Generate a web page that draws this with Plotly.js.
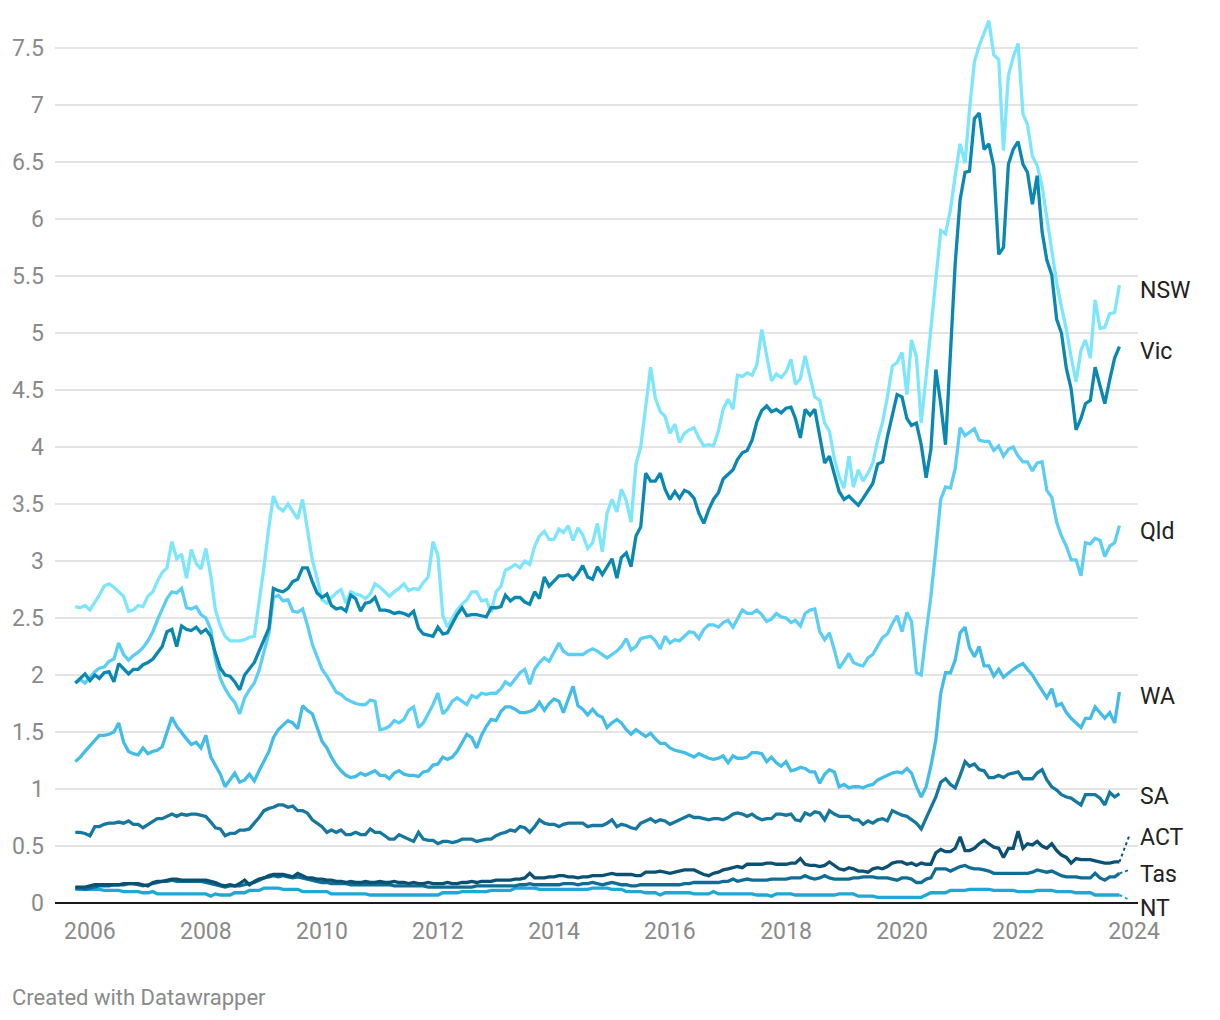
<!DOCTYPE html>
<html>
<head>
<meta charset="utf-8">
<script src="https://cdn.plot.ly/plotly-3.0.1.min.js"></script>
<style>
  html, body { margin: 0; padding: 0; background: #ffffff; }
  #chart { width: 1220px; height: 1020px; }
</style>
</head>
<body>
<div id="chart"></div>
<script>
// Monthly series, October 2005 to October 2023 (217 months)
const startYear = 2005, startMonth = 10, monthCount = 217;

const seriesNames = ['NSW', 'Vic', 'Qld', 'WA', 'SA', 'ACT', 'Tas', 'NT'];

const nsw = [
2.60,2.59,2.61,2.57,2.64,2.70,2.78,2.80,2.77,2.73,
2.69,2.56,2.57,2.61,2.60,2.69,2.73,2.82,2.90,2.94,
3.17,3.02,3.06,2.85,3.10,2.98,2.93,3.11,2.87,2.57,
2.43,2.34,2.30,2.30,2.30,2.31,2.33,2.34,2.62,2.95,
3.30,3.57,3.47,3.44,3.50,3.44,3.37,3.54,3.27,3.01,
2.85,2.66,2.63,2.68,2.72,2.75,2.63,2.73,2.71,2.70,
2.67,2.71,2.80,2.77,2.73,2.69,2.73,2.76,2.80,2.74,
2.76,2.75,2.81,2.86,3.17,3.05,2.52,2.42,2.50,2.57,
2.62,2.66,2.73,2.73,2.65,2.66,2.55,2.73,2.78,2.92,
2.94,2.97,2.94,3.00,2.97,3.13,3.22,3.26,3.19,3.19,
3.28,3.25,3.31,3.18,3.29,3.23,3.11,3.16,3.33,3.08,
3.42,3.54,3.43,3.63,3.53,3.34,3.85,4.00,4.35,4.70,
4.43,4.31,4.27,4.12,4.20,4.04,4.12,4.15,4.17,4.08,
4.01,4.02,4.01,4.14,4.33,4.42,4.33,4.63,4.62,4.65,
4.63,4.72,5.03,4.78,4.58,4.64,4.61,4.66,4.77,4.55,
4.60,4.80,4.62,4.44,4.41,4.21,4.14,3.90,3.74,3.64,
3.92,3.65,3.80,3.70,3.77,3.86,4.06,4.22,4.44,4.71,
4.74,4.83,4.46,4.94,4.79,4.21,4.62,5.03,5.41,5.90,
5.87,6.08,6.38,6.66,6.49,6.96,7.38,7.52,7.63,7.74,
7.44,7.40,6.60,7.26,7.42,7.54,6.92,6.83,6.55,6.47,
6.29,6.02,5.73,5.44,5.23,5.03,4.79,4.57,4.85,4.94,
4.78,5.29,5.04,5.05,5.17,5.18,5.42];

const vic = [
1.93,1.97,2.01,1.95,2.00,1.97,2.02,2.03,1.94,2.10,
2.05,2.01,2.05,2.05,2.09,2.11,2.14,2.19,2.25,2.38,
2.40,2.25,2.43,2.40,2.39,2.42,2.37,2.40,2.34,2.19,
2.06,2.00,1.99,1.94,1.87,2.00,2.05,2.11,2.21,2.31,
2.41,2.76,2.74,2.73,2.76,2.82,2.84,2.94,2.94,2.82,
2.72,2.68,2.71,2.61,2.58,2.59,2.56,2.70,2.67,2.56,
2.63,2.64,2.68,2.57,2.57,2.56,2.54,2.55,2.54,2.52,
2.56,2.41,2.36,2.35,2.34,2.42,2.36,2.37,2.45,2.53,
2.59,2.52,2.53,2.53,2.52,2.51,2.59,2.59,2.60,2.70,
2.65,2.68,2.68,2.64,2.62,2.73,2.67,2.86,2.78,2.83,
2.87,2.87,2.88,2.84,2.89,2.96,2.86,2.84,2.95,2.88,
2.95,3.02,2.85,3.03,3.07,2.95,3.22,3.30,3.77,3.70,
3.70,3.77,3.63,3.54,3.61,3.55,3.62,3.60,3.55,3.42,
3.33,3.45,3.54,3.60,3.72,3.76,3.80,3.89,3.95,3.97,
4.06,4.22,4.32,4.36,4.31,4.33,4.30,4.34,4.35,4.25,
4.08,4.33,4.28,4.33,4.09,3.86,3.92,3.77,3.61,3.54,
3.57,3.53,3.49,3.55,3.61,3.68,3.85,3.87,4.09,4.27,
4.46,4.44,4.25,4.19,4.21,4.02,3.73,3.98,4.68,4.38,
4.02,4.82,5.61,6.17,6.41,6.42,6.88,6.93,6.61,6.66,
6.46,5.69,5.75,6.48,6.61,6.68,6.48,6.41,6.13,6.38,
5.89,5.64,5.51,5.12,5.00,4.69,4.51,4.15,4.25,4.38,
4.41,4.70,4.54,4.38,4.59,4.78,4.88];

const qld = [
1.93,1.96,1.93,1.98,2.03,2.06,2.07,2.12,2.14,2.28,
2.18,2.13,2.17,2.20,2.24,2.30,2.38,2.48,2.58,2.67,
2.73,2.72,2.76,2.59,2.58,2.60,2.53,2.50,2.40,2.14,
1.97,1.88,1.81,1.76,1.66,1.80,1.87,1.93,2.04,2.21,
2.37,2.68,2.70,2.65,2.66,2.56,2.55,2.58,2.44,2.27,
2.16,2.05,1.99,1.92,1.85,1.83,1.79,1.77,1.75,1.74,
1.74,1.78,1.77,1.52,1.53,1.55,1.60,1.58,1.61,1.69,
1.72,1.54,1.58,1.66,1.74,1.84,1.66,1.70,1.77,1.80,
1.77,1.74,1.82,1.80,1.84,1.83,1.84,1.84,1.88,1.94,
1.91,1.97,2.02,2.05,1.92,2.05,2.11,2.15,2.12,2.20,
2.28,2.21,2.18,2.18,2.18,2.18,2.21,2.23,2.21,2.18,
2.15,2.18,2.21,2.25,2.32,2.22,2.25,2.32,2.33,2.34,
2.30,2.23,2.34,2.28,2.31,2.30,2.34,2.38,2.37,2.32,
2.40,2.44,2.44,2.42,2.46,2.48,2.42,2.49,2.57,2.54,
2.54,2.57,2.53,2.47,2.49,2.54,2.51,2.50,2.46,2.48,
2.43,2.54,2.57,2.58,2.38,2.31,2.37,2.22,2.06,2.12,
2.19,2.11,2.09,2.08,2.15,2.18,2.25,2.33,2.36,2.45,
2.52,2.38,2.55,2.47,2.02,2.00,2.37,2.69,3.10,3.54,
3.65,3.64,3.81,4.17,4.10,4.13,4.16,4.06,4.05,4.05,
3.97,4.01,3.92,3.98,4.00,3.92,3.87,3.87,3.79,3.86,
3.87,3.62,3.56,3.34,3.22,3.13,3.01,3.01,2.87,3.16,
3.15,3.20,3.18,3.04,3.13,3.16,3.31];

const wa = [
1.24,1.28,1.33,1.38,1.42,1.47,1.47,1.48,1.50,1.58,
1.41,1.33,1.31,1.30,1.36,1.31,1.33,1.34,1.37,1.50,
1.63,1.55,1.50,1.44,1.39,1.41,1.36,1.47,1.28,1.20,
1.13,1.02,1.08,1.14,1.06,1.08,1.13,1.07,1.16,1.25,
1.33,1.45,1.52,1.56,1.60,1.58,1.53,1.73,1.69,1.66,
1.54,1.42,1.36,1.28,1.21,1.16,1.12,1.10,1.11,1.14,
1.12,1.14,1.16,1.12,1.12,1.09,1.14,1.16,1.13,1.12,
1.12,1.11,1.15,1.16,1.21,1.22,1.28,1.26,1.28,1.33,
1.41,1.48,1.45,1.36,1.47,1.55,1.61,1.60,1.68,1.72,
1.72,1.70,1.67,1.67,1.68,1.70,1.76,1.69,1.75,1.79,
1.77,1.67,1.79,1.90,1.73,1.70,1.65,1.70,1.65,1.63,
1.54,1.58,1.61,1.58,1.52,1.48,1.52,1.49,1.46,1.49,
1.44,1.40,1.40,1.36,1.34,1.33,1.32,1.30,1.28,1.31,
1.29,1.27,1.26,1.27,1.29,1.23,1.29,1.27,1.27,1.28,
1.32,1.32,1.31,1.24,1.28,1.23,1.20,1.24,1.16,1.17,
1.19,1.18,1.15,1.15,1.05,1.13,1.17,1.15,1.02,1.04,
1.01,1.02,1.02,1.01,1.03,1.04,1.08,1.10,1.12,1.14,
1.15,1.14,1.18,1.14,1.02,0.93,1.02,1.20,1.43,1.84,
2.02,2.02,2.13,2.37,2.42,2.24,2.16,2.25,2.08,2.08,
1.99,2.05,1.98,2.02,2.05,2.08,2.10,2.05,2.00,1.93,
1.86,1.80,1.88,1.73,1.75,1.67,1.62,1.58,1.54,1.62,
1.62,1.72,1.67,1.62,1.67,1.58,1.85];

const sa = [
0.62,0.62,0.61,0.59,0.67,0.67,0.69,0.70,0.70,0.71,
0.70,0.72,0.69,0.69,0.66,0.69,0.72,0.74,0.74,0.76,
0.78,0.76,0.78,0.77,0.78,0.78,0.77,0.76,0.71,0.66,
0.65,0.59,0.61,0.61,0.64,0.64,0.65,0.70,0.75,0.81,
0.83,0.84,0.86,0.86,0.84,0.85,0.81,0.81,0.79,0.73,
0.70,0.67,0.62,0.64,0.62,0.64,0.60,0.60,0.62,0.60,
0.60,0.65,0.62,0.62,0.59,0.56,0.56,0.60,0.58,0.56,
0.54,0.62,0.56,0.55,0.55,0.52,0.54,0.54,0.53,0.54,
0.56,0.56,0.56,0.54,0.55,0.56,0.56,0.59,0.61,0.62,
0.64,0.63,0.67,0.66,0.62,0.67,0.73,0.70,0.69,0.69,
0.67,0.69,0.70,0.70,0.70,0.70,0.67,0.68,0.68,0.68,
0.70,0.73,0.67,0.69,0.68,0.66,0.65,0.70,0.72,0.74,
0.71,0.73,0.72,0.69,0.71,0.73,0.75,0.77,0.75,0.75,
0.74,0.73,0.74,0.74,0.73,0.75,0.78,0.79,0.78,0.76,
0.78,0.75,0.73,0.74,0.74,0.78,0.78,0.77,0.78,0.73,
0.72,0.79,0.77,0.80,0.79,0.73,0.81,0.78,0.76,0.76,
0.76,0.73,0.73,0.69,0.72,0.70,0.73,0.74,0.72,0.81,
0.79,0.77,0.76,0.73,0.70,0.65,0.74,0.84,0.93,1.06,
1.09,1.04,1.01,1.12,1.24,1.20,1.22,1.17,1.16,1.10,
1.10,1.12,1.10,1.13,1.14,1.15,1.09,1.09,1.09,1.14,
1.17,1.08,1.02,0.99,0.95,0.93,0.92,0.89,0.86,0.95,
0.95,0.95,0.92,0.86,0.97,0.93,0.96];

const act = [
0.14,0.14,0.14,0.15,0.16,0.16,0.16,0.16,0.16,0.16,
0.17,0.17,0.17,0.17,0.16,0.15,0.18,0.19,0.19,0.20,
0.21,0.21,0.20,0.20,0.20,0.20,0.20,0.20,0.19,0.18,
0.16,0.15,0.16,0.15,0.17,0.20,0.16,0.19,0.21,0.22,
0.24,0.25,0.25,0.25,0.24,0.23,0.26,0.24,0.22,0.22,
0.21,0.21,0.20,0.20,0.19,0.19,0.18,0.19,0.18,0.18,
0.19,0.18,0.18,0.19,0.18,0.18,0.19,0.18,0.18,0.17,
0.18,0.17,0.17,0.18,0.17,0.17,0.17,0.18,0.17,0.17,
0.18,0.18,0.19,0.18,0.19,0.19,0.19,0.20,0.20,0.20,
0.20,0.21,0.21,0.22,0.26,0.22,0.22,0.22,0.23,0.23,
0.24,0.24,0.23,0.23,0.22,0.23,0.23,0.24,0.24,0.24,
0.25,0.26,0.25,0.25,0.25,0.25,0.24,0.24,0.27,0.27,
0.27,0.28,0.27,0.26,0.27,0.28,0.29,0.29,0.29,0.27,
0.25,0.24,0.26,0.27,0.29,0.30,0.31,0.32,0.31,0.34,
0.34,0.34,0.34,0.35,0.35,0.34,0.34,0.34,0.35,0.35,
0.39,0.34,0.33,0.33,0.32,0.33,0.36,0.33,0.30,0.29,
0.31,0.30,0.28,0.28,0.27,0.30,0.31,0.30,0.32,0.35,
0.36,0.36,0.34,0.35,0.33,0.35,0.34,0.34,0.44,0.47,
0.45,0.45,0.48,0.58,0.46,0.46,0.48,0.52,0.55,0.52,
0.49,0.48,0.40,0.48,0.48,0.63,0.48,0.52,0.51,0.54,
0.50,0.48,0.52,0.46,0.42,0.40,0.35,0.39,0.38,0.38,
0.38,0.37,0.36,0.35,0.35,0.36,0.36];

const tas = [
0.13,0.13,0.12,0.13,0.14,0.15,0.15,0.15,0.16,0.16,
0.16,0.17,0.17,0.16,0.15,0.16,0.17,0.18,0.19,0.19,
0.20,0.19,0.19,0.19,0.19,0.19,0.19,0.18,0.17,0.16,
0.15,0.14,0.15,0.15,0.15,0.16,0.17,0.18,0.20,0.22,
0.23,0.24,0.23,0.24,0.23,0.22,0.23,0.22,0.21,0.20,
0.19,0.18,0.18,0.17,0.17,0.17,0.17,0.16,0.16,0.16,
0.16,0.16,0.16,0.16,0.16,0.16,0.15,0.15,0.15,0.15,
0.15,0.15,0.15,0.14,0.14,0.14,0.14,0.14,0.14,0.14,
0.14,0.14,0.14,0.15,0.15,0.15,0.15,0.15,0.15,0.15,
0.15,0.15,0.16,0.16,0.17,0.16,0.16,0.16,0.16,0.16,
0.16,0.17,0.17,0.17,0.16,0.17,0.17,0.18,0.17,0.16,
0.17,0.18,0.17,0.16,0.16,0.15,0.15,0.16,0.16,0.16,
0.16,0.16,0.16,0.16,0.16,0.16,0.17,0.17,0.18,0.18,
0.18,0.18,0.18,0.18,0.19,0.19,0.21,0.19,0.20,0.21,
0.20,0.20,0.20,0.20,0.21,0.21,0.21,0.21,0.22,0.22,
0.22,0.24,0.22,0.21,0.22,0.24,0.22,0.21,0.21,0.21,
0.21,0.22,0.22,0.23,0.23,0.23,0.22,0.22,0.22,0.21,
0.20,0.22,0.22,0.21,0.18,0.18,0.21,0.22,0.30,0.30,
0.30,0.28,0.30,0.32,0.33,0.31,0.30,0.30,0.29,0.28,
0.26,0.26,0.26,0.26,0.26,0.26,0.26,0.26,0.27,0.29,
0.28,0.27,0.28,0.26,0.24,0.23,0.23,0.23,0.22,0.22,
0.22,0.26,0.22,0.20,0.23,0.23,0.26];

const nt = [
0.12,0.12,0.12,0.12,0.12,0.12,0.11,0.11,0.11,0.11,
0.10,0.10,0.10,0.10,0.09,0.09,0.10,0.08,0.08,0.08,
0.08,0.08,0.08,0.08,0.08,0.08,0.08,0.08,0.06,0.08,
0.07,0.07,0.07,0.09,0.09,0.09,0.11,0.11,0.11,0.13,
0.13,0.13,0.13,0.12,0.12,0.12,0.12,0.10,0.10,0.10,
0.10,0.10,0.10,0.08,0.08,0.08,0.08,0.08,0.08,0.08,
0.08,0.07,0.07,0.07,0.07,0.07,0.07,0.07,0.07,0.07,
0.07,0.07,0.07,0.07,0.07,0.07,0.09,0.09,0.09,0.09,
0.10,0.10,0.10,0.10,0.10,0.10,0.11,0.11,0.11,0.11,
0.11,0.13,0.13,0.13,0.13,0.13,0.12,0.12,0.12,0.12,
0.12,0.12,0.12,0.12,0.12,0.12,0.12,0.13,0.13,0.13,
0.13,0.12,0.12,0.12,0.10,0.10,0.10,0.10,0.09,0.09,
0.09,0.07,0.09,0.09,0.09,0.09,0.09,0.09,0.08,0.08,
0.08,0.08,0.10,0.08,0.08,0.08,0.08,0.08,0.08,0.08,
0.08,0.07,0.07,0.07,0.06,0.08,0.08,0.08,0.08,0.07,
0.07,0.07,0.07,0.07,0.07,0.07,0.07,0.07,0.08,0.08,
0.08,0.08,0.06,0.06,0.06,0.06,0.05,0.05,0.05,0.05,
0.05,0.05,0.05,0.05,0.05,0.05,0.07,0.09,0.09,0.09,
0.09,0.11,0.11,0.11,0.11,0.12,0.12,0.12,0.12,0.12,
0.11,0.11,0.11,0.11,0.11,0.10,0.10,0.10,0.10,0.11,
0.11,0.11,0.11,0.10,0.10,0.10,0.10,0.09,0.09,0.09,
0.09,0.07,0.07,0.07,0.07,0.07,0.07];

const yearTicks = [2006, 2008, 2010, 2012, 2014, 2016, 2018, 2020, 2022, 2024];

// ---- presentation ----
const seriesData = { NSW: nsw, Vic: vic, Qld: qld, WA: wa, SA: sa, ACT: act, Tas: tas, NT: nt };
const colors = { NSW: '#7de5fc', Vic: '#0a88b2', Qld: '#5ccef5', WA: '#43bde8',
                 SA: '#17789f', ACT: '#0b5174', Tas: '#106e96', NT: '#1fa7d6' };
const drawOrder = ['NT', 'Tas', 'ACT', 'SA', 'WA', 'Qld', 'NSW', 'Vic'];
// label nudges (pixels) and dotted leader lines for crowded labels
const labelShift = { NSW: -5, Vic: -5, Qld: -6, WA: -4, SA: -3, ACT: 24, Tas: -1, NT: -13 };
const leaderTarget = { ACT: 0.59, Tas: 0.29, NT: 0.03 };

const months = [];
for (let i = 0; i < monthCount; i++) {
  const mIdx = startMonth - 1 + i;
  const y = startYear + Math.floor(mIdx / 12);
  const m = (mIdx % 12) + 1;
  months.push(y + '-' + String(m).padStart(2, '0') + '-01');
}
const lastDate = months[months.length - 1];
const leaderEnd = (function () {
  const d = new Date(lastDate + 'T00:00:00Z');
  d.setUTCDate(d.getUTCDate() + 62);
  return d.toISOString().slice(0, 10);
})();

const traces = drawOrder.map(name => ({
  type: 'scatter', mode: 'lines', name: name,
  x: months, y: seriesData[name],
  line: { color: colors[name], width: 3.3, shape: 'linear' },
  hoverinfo: 'skip', showlegend: false
}));

const font = 'Roboto, "Noto Sans", sans-serif';

const annotations = seriesNames.map(name => {
  const vals = seriesData[name];
  return {
    xref: 'paper', yref: 'y', x: 1, y: vals[vals.length - 1],
    xanchor: 'left', yanchor: 'middle', yshift: labelShift[name],
    text: name, showarrow: false,
    font: { family: font, size: 23, color: '#222222' }
  };
});
annotations.push({
  xref: 'paper', yref: 'paper', x: -0.0416, y: -0.1065,
  xanchor: 'left', yanchor: 'middle',
  text: 'Created with Datawrapper', showarrow: false,
  font: { family: font, size: 22, color: '#8a8a8a' }
});

const shapes = Object.keys(leaderTarget).map(name => {
  const vals = seriesData[name];
  return {
    type: 'line', xref: 'x', yref: 'y',
    x0: lastDate, y0: vals[vals.length - 1],
    x1: leaderEnd, y1: leaderTarget[name],
    line: { color: colors[name], width: 2, dash: 'dot' }
  };
});

const layout = {
  width: 1220, height: 1020,
  margin: { l: 55, r: 82, t: 20, b: 117 },
  paper_bgcolor: '#ffffff', plot_bgcolor: '#ffffff',
  showlegend: false, hovermode: false,
  font: { family: font, color: '#8a8a8a' },
  xaxis: {
    type: 'date',
    range: ['2005-05-26', '2024-01-26'],
    tickvals: yearTicks.map(y => y + '-01-01'),
    ticktext: yearTicks.map(String),
    showgrid: false, zeroline: false, showline: false,
    ticks: '', ticklabelstandoff: 12,
    tickfont: { family: font, size: 23, color: '#8a8a8a' }
  },
  yaxis: {
    range: [0, 7.746],
    tick0: 0, dtick: 0.5,
    showgrid: true, gridcolor: '#e4e4e4', gridwidth: 1.5,
    zeroline: true, zerolinecolor: '#1a1a1a', zerolinewidth: 2,
    showline: false, ticks: '', ticklabelstandoff: 10,
    tickfont: { family: font, size: 23, color: '#8a8a8a' }
  },
  annotations: annotations,
  shapes: shapes
};

Plotly.newPlot('chart', traces, layout, { displayModeBar: false, staticPlot: true });
</script>
</body>
</html>
